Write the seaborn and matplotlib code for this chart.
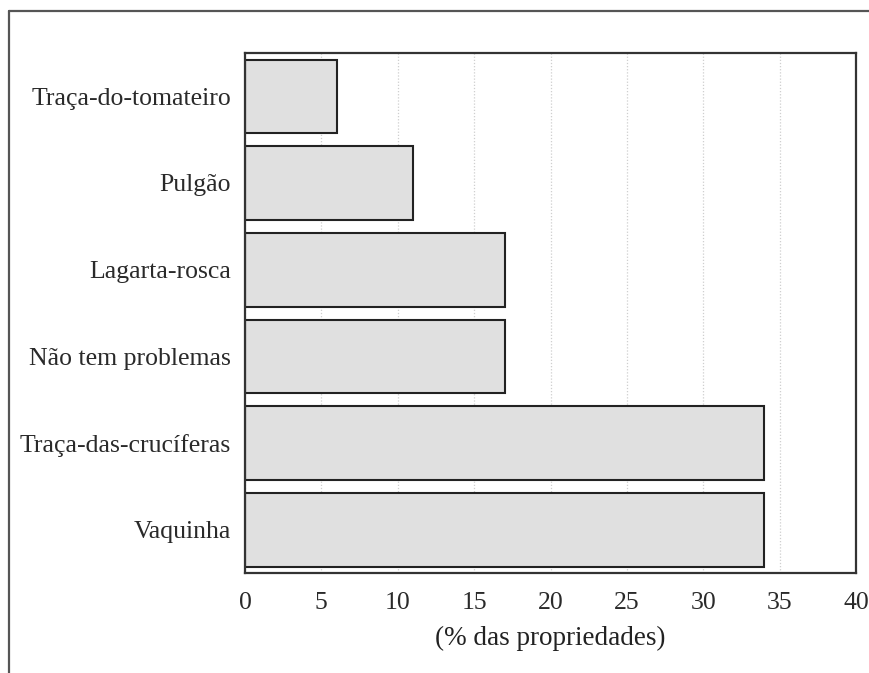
import matplotlib
matplotlib.use("Agg")
import matplotlib.pyplot as plt
import seaborn as sns
import pandas as pd
from matplotlib.lines import Line2D

categories = ["Traça-do-tomateiro", "Pulgão", "Lagarta-rosca",
              "Não tem problemas", "Traça-das-crucíferas", "Vaquinha"]
values = [6, 11, 17, 17, 34, 34]
xticks = [0, 5, 10, 15, 20, 25, 30, 35, 40]
xlabel = "(% das propriedades)"

sns.set_theme(style="white")
plt.rcParams['font.family'] = ['Liberation Serif', 'DejaVu Serif']

df = pd.DataFrame({"cat": categories, "val": values})

fig = plt.figure(figsize=(8.7, 6.73), dpi=100)
ax = fig.add_axes([245/870, 1-573/673, (856-245)/870, (573-53)/673])

sns.barplot(data=df, x="val", y="cat", order=categories, ax=ax,
            color="#e0e0e0", edgecolor="#222222", linewidth=1.5,
            width=0.85, saturation=1)

ax.set_xlim(0, 40)
ax.set_ylim(5.5, -0.5)
ax.set_xticks(xticks)
ax.set_xticklabels([str(t) for t in xticks])
ax.xaxis.grid(True, linestyle=(0, (1, 1.5)), color="#cfcfcf", linewidth=0.9)
ax.yaxis.grid(False)
ax.set_axisbelow(True)
for s in ax.spines.values():
    s.set_visible(True)
    s.set_color("#333333")
    s.set_linewidth(1.6)
ax.tick_params(axis="y", length=0, labelsize=18.5, colors="#2a2a2a", pad=10)
ax.tick_params(axis="x", length=0, labelsize=18.5, colors="#2a2a2a", pad=14)
ax.set_ylabel("")
ax.set_xlabel(xlabel, fontsize=19.5, color="#222222", labelpad=8)

# outer frame lines (left and top)
fig.add_artist(Line2D([9.5/870, 9.5/870], [0, 1-10.5/673], transform=fig.transFigure,
                      color="#555555", linewidth=1.6))
fig.add_artist(Line2D([9.5/870, 1], [1-10.5/673, 1-10.5/673], transform=fig.transFigure,
                      color="#555555", linewidth=1.6))

fig.savefig("out.png", dpi=100)
